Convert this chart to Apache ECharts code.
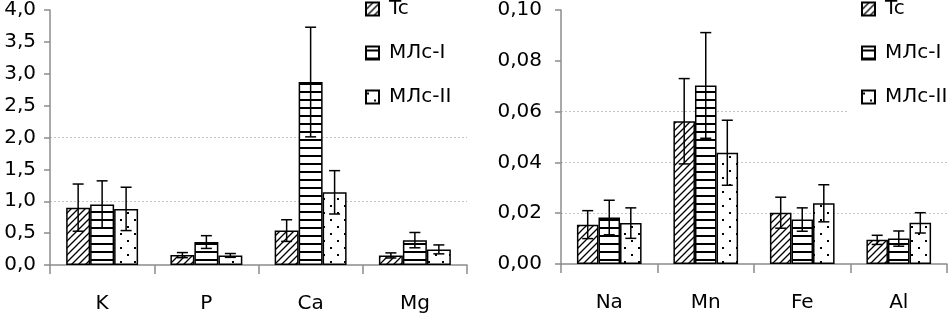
<!DOCTYPE html>
<html>
<head>
<meta charset="utf-8">
<script src="https://cdn.jsdelivr.net/npm/echarts@6/dist/echarts.min.js"></script>
<style>
  html, body { margin: 0; padding: 0; background: #fff; }
  #chart { width: 949px; height: 316px; }
</style>
</head>
<body>
<div id="chart"></div>
<script>
// series names
const seriesNames = ['Tc', 'МЛс-I', 'МЛс-II']

// left chart: macro elements
const macroCats = ['K', 'P', 'Ca', 'Mg']
const macroTc = [0.90, 0.155, 0.54, 0.15]
const macroMls1 = [0.95, 0.36, 2.87, 0.39]
const macroMls2 = [0.88, 0.15, 1.14, 0.245]
const macroTcErr = [0.37, 0.04, 0.17, 0.04]
const macroMls1Err = [0.37, 0.10, 0.86, 0.12]
const macroMls2Err = [0.34, 0.03, 0.34, 0.07]
const macroTicks = [0, 0.5, 1, 1.5, 2, 2.5, 3, 3.5, 4]

// right chart: micro elements
const microCats = ['Na', 'Mn', 'Fe', 'Al']
const microTc = [0.0155, 0.0562, 0.0202, 0.0095]
const microMls1 = [0.0183, 0.0703, 0.0175, 0.0100]
const microMls2 = [0.0161, 0.0438, 0.0239, 0.0162]
const microTcErr = [0.0055, 0.0168, 0.0061, 0.0018]
const microMls1Err = [0.0068, 0.0208, 0.0046, 0.0030]
const microMls2Err = [0.0060, 0.0128, 0.0073, 0.0040]
const microTicks = [0, 0.02, 0.04, 0.06, 0.08, 0.1]

const FONT = 'DejaVu Sans'
const AXIS_GREY = '#8c8c8c'
const GRID_GREY = '#c4c4c4'
const NONE = 'rgba(0,0,0,0)'

// fill patterns
function makeCanvas (w, h) {
  const c = document.createElement('canvas')
  c.width = w
  c.height = h
  const g = c.getContext('2d')
  g.fillStyle = '#fff'
  g.fillRect(0, 0, w, h)
  return [c, g]
}
function hatchPattern () {
  const s = 7
  const [c, g] = makeCanvas(s, s)
  g.strokeStyle = '#000'
  g.lineWidth = 1.3
  g.beginPath()
  g.moveTo(0, s); g.lineTo(s, 0)
  g.moveTo(-2, 2); g.lineTo(2, -2)
  g.moveTo(s - 2, s + 2); g.lineTo(s + 2, s - 2)
  g.stroke()
  return {image: c, repeat: 'repeat'}
}
function stripePattern () {
  const [c, g] = makeCanvas(8, 8)
  g.fillStyle = '#000'
  g.fillRect(0, 3, 8, 2)
  return {image: c, repeat: 'repeat'}
}
function dotPattern () {
  const [c, g] = makeCanvas(14, 14)
  g.fillStyle = '#000'
  g.fillRect(1, 2, 2, 2)
  g.fillRect(8, 9, 2, 2)
  return {image: c, repeat: 'repeat'}
}
const fills = [hatchPattern(), stripePattern(), dotPattern()]

const GAP_LEFT = 0.31
const GAP_RIGHT = 0.33

function errRender (idx, gap) {
  return function (params, api) {
    const x = api.value(0)
    const lo = api.coord([x, api.value(1)])
    const hi = api.coord([x, api.value(2)])
    const band = api.size([1, 0])[0]
    const bw = band * (1 - gap) / 3
    const cx = lo[0] + (idx - 1) * bw
    const cap = 5.5
    const style = {stroke: '#000', lineWidth: 1.5}
    return {
      type: 'group',
      children: [
        {type: 'line', shape: {x1: cx, y1: hi[1], x2: cx, y2: lo[1]}, style: style},
        {type: 'line', shape: {x1: cx - cap, y1: hi[1], x2: cx + cap, y2: hi[1]}, style: style},
        {type: 'line', shape: {x1: cx - cap, y1: lo[1], x2: cx + cap, y2: lo[1]}, style: style}
      ]
    }
  }
}

function buildSeries (axisIdx, gap, values, errs) {
  const out = []
  values.forEach(function (vals, i) {
    out.push({
      name: seriesNames[i],
      type: 'bar',
      xAxisIndex: axisIdx,
      yAxisIndex: axisIdx,
      data: vals,
      barGap: '0%',
      barCategoryGap: (gap * 100) + '%',
      itemStyle: {color: fills[i], borderColor: '#000', borderWidth: 1.5},
      emphasis: {disabled: true}
    })
  })
  values.forEach(function (vals, i) {
    out.push({
      type: 'custom',
      xAxisIndex: axisIdx,
      yAxisIndex: axisIdx,
      z: 5,
      silent: true,
      renderItem: errRender(i, gap),
      encode: {x: 0, y: [1, 2]},
      data: vals.map(function (v, k) { return [k, v - errs[i][k], v + errs[i][k]] })
    })
  })
  return out
}

// grid lines only where the reference shows them
const leftGridColors = macroTicks.map(function (t) { return (t === 1 || t === 2) ? GRID_GREY : NONE })
const rightGridColors = microTicks.map(function (t) { return (t > 0 && t < 0.07) ? GRID_GREY : NONE })

function xAxisOpt (idx, cats) {
  return {
    type: 'category',
    gridIndex: idx,
    data: cats,
    axisLine: {lineStyle: {color: AXIS_GREY, width: 1.5}},
    axisTick: {show: true, length: 9, lineStyle: {color: AXIS_GREY, width: 1.5}},
    axisLabel: {color: '#000', fontFamily: FONT, fontSize: 20, margin: 29}
  }
}
function yAxisOpt (idx, max, interval, digits, colors, margin) {
  return {
    type: 'value',
    gridIndex: idx,
    min: 0,
    max: max,
    interval: interval,
    axisLine: {show: true, lineStyle: {color: AXIS_GREY, width: 1.5}},
    axisTick: {show: true, length: 6, lineStyle: {color: AXIS_GREY, width: 1.5}},
    axisLabel: {
      color: '#000',
      fontFamily: FONT,
      fontSize: 20,
      margin: margin,
      formatter: function (v) { return v.toFixed(digits).replace('.', ',') }
    },
    splitLine: {show: true, lineStyle: {color: colors, type: [2, 2], width: 1}}
  }
}

function legendOpt (left, padding, top) {
  return {
    data: seriesNames,
    orient: 'vertical',
    left: left,
    top: top,
    padding: padding,
    itemWidth: 13,
    itemHeight: 13,
    itemGap: 24,
    icon: 'rect',
    backgroundColor: '#fff',
    selectedMode: false,
    textStyle: {color: '#000', fontFamily: FONT, fontSize: 20, padding: [0, 0, 0, 5]}
  }
}

const chart = echarts.init(document.getElementById('chart'), null, {renderer: 'canvas'})
chart.setOption({
  animation: false,
  backgroundColor: '#fff',
  grid: [
    {left: 50, top: 7, width: 417, height: 258},
    {left: 561, top: 7, width: 386, height: 257}
  ],
  legend: [
    legendOpt(365, [0, 0, 0, 0], -1),
    legendOpt(847, [2, 6, 10, 14], -3)
  ],
  xAxis: [xAxisOpt(0, macroCats), xAxisOpt(1, microCats)],
  yAxis: [
    yAxisOpt(0, 4, 0.5, 1, leftGridColors, 14),
    yAxisOpt(1, 0.1, 0.02, 2, rightGridColors, 19)
  ],
  series: buildSeries(0, GAP_LEFT, [macroTc, macroMls1, macroMls2], [macroTcErr, macroMls1Err, macroMls2Err])
    .concat(buildSeries(1, GAP_RIGHT, [microTc, microMls1, microMls2], [microTcErr, microMls1Err, microMls2Err]))
})
</script>
</body>
</html>
